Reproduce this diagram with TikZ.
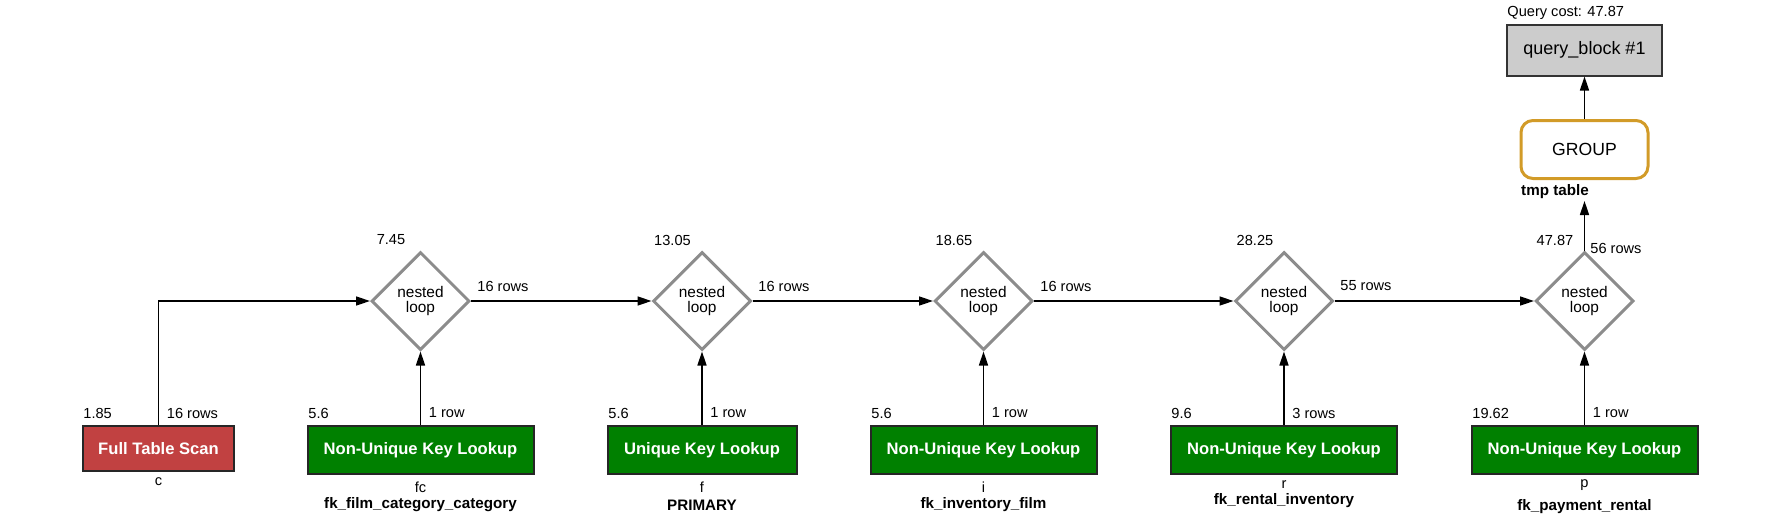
\documentclass[tikz,border=0pt]{standalone}
\usepackage{fontspec}
\setmainfont{Liberation Sans}
\usetikzlibrary{shapes.geometric,arrows.meta}
\definecolor{scanred}{RGB}{193,65,65}
\definecolor{lookgreen}{RGB}{0,128,0}
\definecolor{loopgray}{RGB}{140,140,140}
\definecolor{grouporange}{RGB}{210,155,40}
\definecolor{qbgray}{RGB}{204,204,204}
\begin{document}
\begin{tikzpicture}[x=0.5pt,y=-0.5pt,
  lbl/.style={font=\fontsize{7.3}{8.8}\selectfont, inner sep=0},
  sub/.style={font=\bfseries\fontsize{7.6}{9}\selectfont, inner sep=0},
  opbox/.style={draw=black!85, line width=1pt, text=white, font=\bfseries\fontsize{8.3}{10}\selectfont, minimum height=24pt, inner sep=0},
  loopnode/.style={diamond, aspect=1, draw=loopgray, line width=1.5pt, minimum width=49pt, minimum height=49pt, inner sep=0, align=center, font=\fontsize{7.7}{7.5}\selectfont},
  arr/.style={-{Triangle[length=7pt,width=4.5pt]}, line width=0.8pt}
]
\useasboundingbox (0,0) rectangle (1774,525);

% operation boxes
\node[opbox, fill=scanred, minimum width=75.5pt, minimum height=22.5pt] (fts) at (158.5,448.5) {Full Table Scan};
\node[opbox, fill=lookgreen, minimum width=113pt] (b1) at (420.5,450) {Non-Unique Key Lookup};
\node[opbox, fill=lookgreen, minimum width=94.5pt] (b2) at (702,450) {Unique Key Lookup};
\node[opbox, fill=lookgreen, minimum width=113pt] (b3) at (983.5,450) {Non-Unique Key Lookup};
\node[opbox, fill=lookgreen, minimum width=113pt] (b4) at (1284,450) {Non-Unique Key Lookup};
\node[opbox, fill=lookgreen, minimum width=113pt] (b5) at (1584.5,450) {Non-Unique Key Lookup};

% nested loops
\node[loopnode] (d1) at (420.5,301) {nested\\loop};
\node[loopnode] (d2) at (702,301) {nested\\loop};
\node[loopnode] (d3) at (983.5,301) {nested\\loop};
\node[loopnode] (d4) at (1284,301) {nested\\loop};
\node[loopnode] (d5) at (1584.5,301) {nested\\loop};

% top
\node[draw=grouporange, line width=1.5pt, rounded corners=6pt, minimum width=63.5pt, minimum height=29pt, font=\fontsize{8.8}{10}\selectfont] (grp) at (1584.5,149.5) {GROUP};
\node[draw=black!80, line width=1pt, fill=qbgray, minimum width=77.5pt, minimum height=25.5pt, font=\fontsize{9}{10}\selectfont] (qb) at (1584.5,50) {query\_block \#1};
\coordinate (t5) at (1584.5,201);

% connectors
\draw[arr] (fts.north) |- (d1.west);
\draw[arr] (d1.east) -- (d2.west);
\draw[arr] (d2.east) -- (d3.west);
\draw[arr] (d3.east) -- (d4.west);
\draw[arr] (d4.east) -- (d5.west);
\draw[arr] (b1.north) -- (d1.south);
\draw[arr] (b2.north) -- (d2.south);
\draw[arr] (b3.north) -- (d3.south);
\draw[arr] (b4.north) -- (d4.south);
\draw[arr] (b5.north) -- (d5.south);
\draw[arr] (d5.north) -- (t5);
\draw[arr] (grp.north) -- (qb.south);

% labels at top
\node[lbl, anchor=west] (qcost) at (1507,13) {Query cost: 47.87};
\node[sub] (tmp) at (1555,192) {tmp table};

% loop cost labels
\node[lbl] (c1) at (391,240) {7.45};
\node[lbl] (c2) at (672.5,240) {13.05};
\node[lbl] (c3) at (954,240) {18.65};
\node[lbl] (c4) at (1255,240) {28.25};
\node[lbl] (c5) at (1555,240) {47.87};
\node[lbl, anchor=west] (r1) at (477,286) {16 rows};
\node[lbl, anchor=west] (r2) at (758,286) {16 rows};
\node[lbl, anchor=west] (r3) at (1040,286) {16 rows};
\node[lbl, anchor=west] (r4) at (1340,286) {55 rows};
\node[lbl, anchor=west] (r5) at (1590,248) {56 rows};

% box cost labels
\node[lbl, anchor=west] (k0) at (83,413) {1.85};
\node[lbl, anchor=west] (k1) at (308,413) {5.6};
\node[lbl, anchor=west] (k2) at (608,413) {5.6};
\node[lbl, anchor=west] (k3) at (871,413) {5.6};
\node[lbl, anchor=west] (k4) at (1171,413) {9.6};
\node[lbl, anchor=west] (k5) at (1472,413) {19.62};
\node[lbl, anchor=west] (w0) at (166.5,413) {16 rows};
\node[lbl, anchor=west] (w1) at (428.5,413) {1 row};
\node[lbl, anchor=west] (w2) at (710,413) {1 row};
\node[lbl, anchor=west] (w3) at (991.5,413) {1 row};
\node[lbl, anchor=west] (w4) at (1292,413) {3 rows};
\node[lbl, anchor=west] (w5) at (1592.5,413) {1 row};

% under-box labels
\node[lbl] (a0) at (158.5,482) {c};
\node[lbl] (a1) at (420.5,487) {fc};
\node[sub] (s1) at (420.5,505) {fk\_film\_category\_category};
\node[lbl] (a2) at (702,487) {f};
\node[sub] (s2) at (702,505) {PRIMARY};
\node[lbl] (a3) at (983.5,487) {i};
\node[sub] (s3) at (983.5,505) {fk\_inventory\_film};
\node[lbl] (a4) at (1284,485) {r};
\node[sub] (s4) at (1284,501) {fk\_rental\_inventory};
\node[lbl] (a5) at (1584.5,485) {p};
\node[sub] (s5) at (1584.5,507) {fk\_payment\_rental};
\end{tikzpicture}
\end{document}
